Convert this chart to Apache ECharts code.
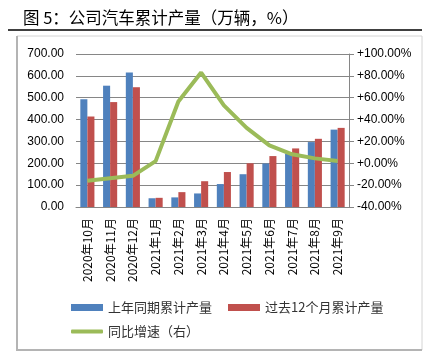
<!DOCTYPE html>
<html>
<head>
<meta charset="utf-8">
<script src="https://cdn.jsdelivr.net/npm/echarts@6/dist/echarts.min.js"></script>
<style>
    html, body { margin: 0; padding: 0; background: #fff; }
    #chart { width: 424px; height: 352px; }
</style>
</head>
<body>
<div id="chart"></div>
<script>
const months = ['2020年10月', '2020年11月', '2020年12月', '2021年1月', '2021年2月', '2021年3月',
    '2021年4月', '2021年5月', '2021年6月', '2021年7月', '2021年8月', '2021年9月']
const lastYearCum = [493, 555, 615, 40, 44, 62, 105, 150, 199, 244, 297, 354]
const past12Cum = [414, 480, 548, 42, 68, 118, 160, 200, 233, 268, 312, 362]
const yoyGrowth = [-16, -13.6, -11.5, 2, 56.6, 83, 53, 32.4, 16.4, 8.2, 4.5, 2]

const leftTicks = { min: 0, max: 700, interval: 100 }
const rightTicks = { min: -40, max: 100, interval: 20 }

const numFont = 'Liberation Sans, Arial, sans-serif'
const cjkFont = 'Noto Sans CJK SC, sans-serif'

let chart = echarts.init(document.getElementById('chart'))
chart.setOption({
    animation: false,
    title: {
        text: '图 5：公司汽车累计产量（万辆，%）',
        left: 18,
        top: 4,
        textStyle: {
            fontFamily: cjkFont,
            fontSize: 16.5,
            fontWeight: 'normal',
            color: '#000',
        },
    },
    graphic: [
        {
            type: 'line',
            shape: { x1: 8, y1: 30, x2: 422, y2: 30 },
            style: { stroke: '#000', lineWidth: 1.5 },
        },
        {
            type: 'rect',
            shape: { x: 17, y: 36, width: 405, height: 314 },
            style: { fill: 'none', stroke: '#d4d4d4', lineWidth: 1 },
        },
        {
            type: 'polyline',
            shape: { points: [[17, 36], [17, 350], [422, 350]] },
            style: { stroke: '#b4b4b4', lineWidth: 2, fill: 'none' },
        },
    ],
    legend: [{
        data: ['上年同期累计产量', '过去12个月累计产量'],
        left: 66,
        top: 296,
        itemWidth: 32,
        itemHeight: 7,
        itemGap: 16,
        icon: 'rect',
        textStyle: { fontFamily: cjkFont, fontSize: 13, color: '#333' },
    }, {
        data: ['同比增速（右）'],
        left: 66,
        top: 320,
        itemWidth: 32,
        itemHeight: 4,
        icon: 'roundRect',
        textStyle: { fontFamily: cjkFont, fontSize: 13, color: '#333' },
    }],
    grid: {
        left: 76,
        right: 75,
        top: 54,
        bottom: 145,
    },
    xAxis: [{
        type: 'category',
        data: months,
        axisLine: { lineStyle: { color: '#868686' } },
        axisTick: { show: false },
        axisLabel: {
            rotate: 90,
            interval: 0,
            margin: 11,
            fontFamily: cjkFont,
            fontSize: 12,
            color: '#000',
        },
    }],
    yAxis: [{
        type: 'value',
        min: leftTicks.min,
        max: leftTicks.max,
        interval: leftTicks.interval,
        axisLine: { show: false },
        axisTick: { show: false },
        splitLine: { lineStyle: { color: '#868686' } },
        axisLabel: {
            margin: 12,
            fontFamily: numFont,
            fontSize: 12,
            color: '#000',
            formatter: v => v.toFixed(2),
        },
    }, {
        type: 'value',
        min: rightTicks.min,
        max: rightTicks.max,
        interval: rightTicks.interval,
        position: 'right',
        axisLine: { show: true, lineStyle: { color: '#868686' } },
        axisTick: { show: true, length: 5, lineStyle: { color: '#868686' } },
        splitLine: { show: false },
        axisLabel: {
            margin: 8,
            fontFamily: numFont,
            fontSize: 12,
            color: '#000',
            formatter: v => (v >= 0 ? '+' : '') + v.toFixed(2) + '%',
        },
    }],
    series: [{
        name: '上年同期累计产量',
        type: 'bar',
        data: lastYearCum,
        barGap: '0%',
        barCategoryGap: '38%',
        itemStyle: { color: '#4F81BD' },
    }, {
        name: '过去12个月累计产量',
        type: 'bar',
        data: past12Cum,
        barGap: '0%',
        barCategoryGap: '38%',
        itemStyle: { color: '#C0504D' },
    }, {
        name: '同比增速（右）',
        type: 'line',
        yAxisIndex: 1,
        data: yoyGrowth,
        showSymbol: false,
        lineStyle: { color: '#9BBB59', width: 4 },
        itemStyle: { color: '#9BBB59' },
    }],
})
</script>
</body>
</html>
